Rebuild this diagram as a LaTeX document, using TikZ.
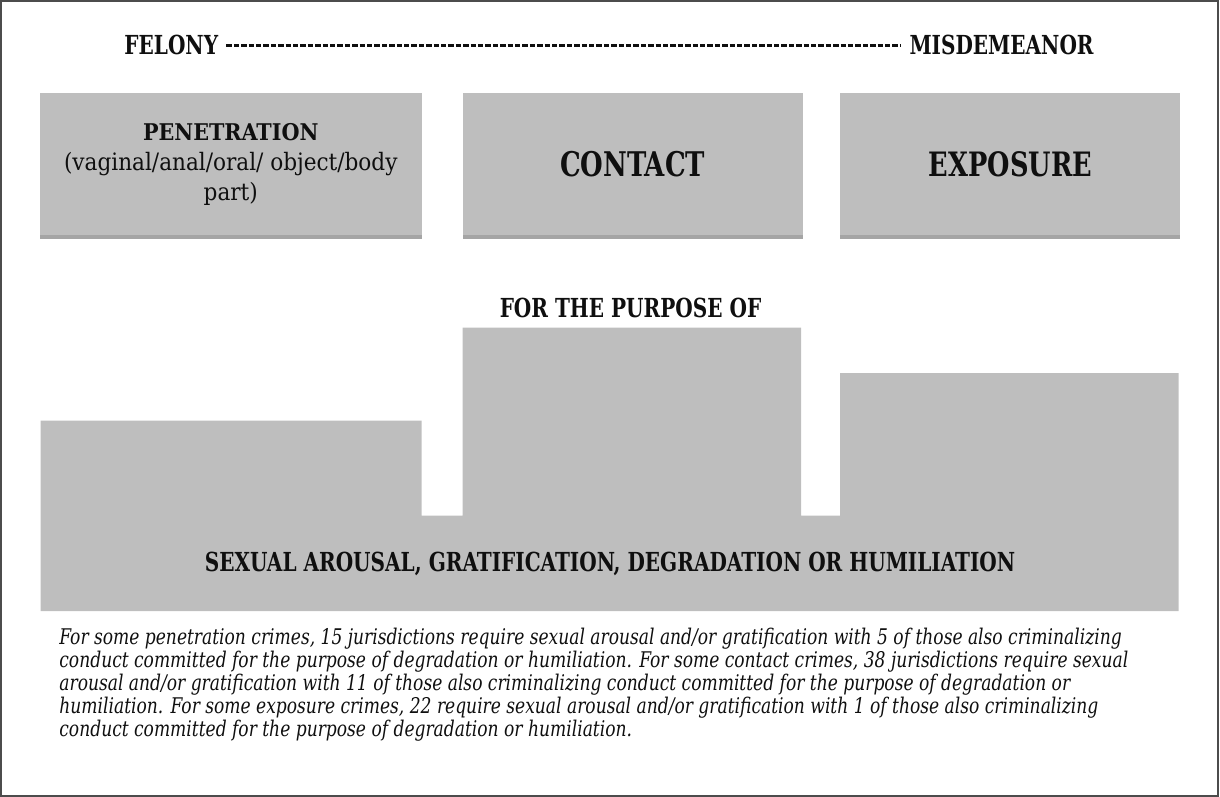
\documentclass[tikz,border=0pt]{standalone}
\usepackage{fontspec}
\setmainfont{DejaVu Serif Condensed}
\newfontfamily\headfont{DejaVu Serif Condensed}[FakeStretch=0.85]
\newfontfamily\notefont{DejaVu Serif Condensed}[FakeStretch=0.88]
\usepackage{tikz}
\usetikzlibrary{positioning,shadows}
\definecolor{boxgray}{RGB}{190,190,190}
\definecolor{inkgray}{RGB}{15,15,15}
\tikzset{crime box/.style={rectangle,fill=boxgray,minimum height=71pt,inner sep=0pt,align=center,text=inkgray,
    drop shadow={shadow xshift=0pt,shadow yshift=-2pt,fill=black!70,opacity=0.5}},}
\tikzset{head/.style={font=\headfont\bfseries\fontsize{13.1}{16}\selectfont,inner sep=0pt,text=inkgray},}
\tikzstyle{scale line} = [line width=1.1pt,inkgray,dash pattern=on 2.7pt off 1pt,shorten <=4pt,shorten >=4pt]

\begin{document}
\begin{tikzpicture}[x=0.5pt,y=-0.5pt]
    \useasboundingbox (0,0) rectangle (1220,797);
    \draw[black!70,line width=1pt] (1,1) rectangle (1218,796);

    \node[head,anchor=base west] (felony) at (124,55) {FELONY};
    \node[head,anchor=base east] (misd) at (1094,55) {MISDEMEANOR};
    \draw [scale line] (felony) -- (misd);

    \node[crime box,minimum width=191pt,font=\fontsize{12}{15}\selectfont] (pen) at (230.75,164)
        {{\bfseries\fontsize{11.5}{15}\selectfont PENETRATION}\\
         (vaginal/anal/oral/ object/body\\
         part)};
    \node[crime box,minimum width=170pt,right=20pt of pen] (contact)
        {\headfont\bfseries\fontsize{17}{19}\selectfont CONTACT};
    \node[crime box,minimum width=170pt,right=18.5pt of contact] (exposure)
        {\headfont\bfseries\fontsize{16.8}{19}\selectfont EXPOSURE};

    \node[head] (purpose) at (630.5,308) {FOR THE PURPOSE OF};

    % stepped block under the three crime boxes
    \fill[boxgray] (40.7,420.7) -- (421.5,420.7) -- (421.5,515.7) -- (462.6,515.7)
        -- (462.6,327.7) -- (801,327.7) -- (801,515.7) -- (840,515.7)
        -- (840,373) -- (1178.5,373) -- (1178.5,611) -- (40.7,611) -- cycle;
    \node[head] (goal) at (610,564) {SEXUAL AROUSAL, GRATIFICATION, DEGRADATION OR HUMILIATION};

    \node[anchor=north west,inner sep=0pt,align=left,text=inkgray,
          font=\notefont\itshape\fontsize{10.8}{11.5}\selectfont] (note) at (59,628)
        {For some penetration crimes, 15 jurisdictions require sexual arousal and/or gratification with 5 of those also criminalizing\\
         conduct committed for the purpose of degradation or humiliation. For some contact crimes, 38 jurisdictions require sexual\\
         arousal and/or gratification with 11 of those also criminalizing conduct committed for the purpose of degradation or\\
         humiliation. For some exposure crimes, 22 require sexual arousal and/or gratification with 1 of those also criminalizing\\
         conduct committed for the purpose of degradation or humiliation.};
\end{tikzpicture}
\end{document}
